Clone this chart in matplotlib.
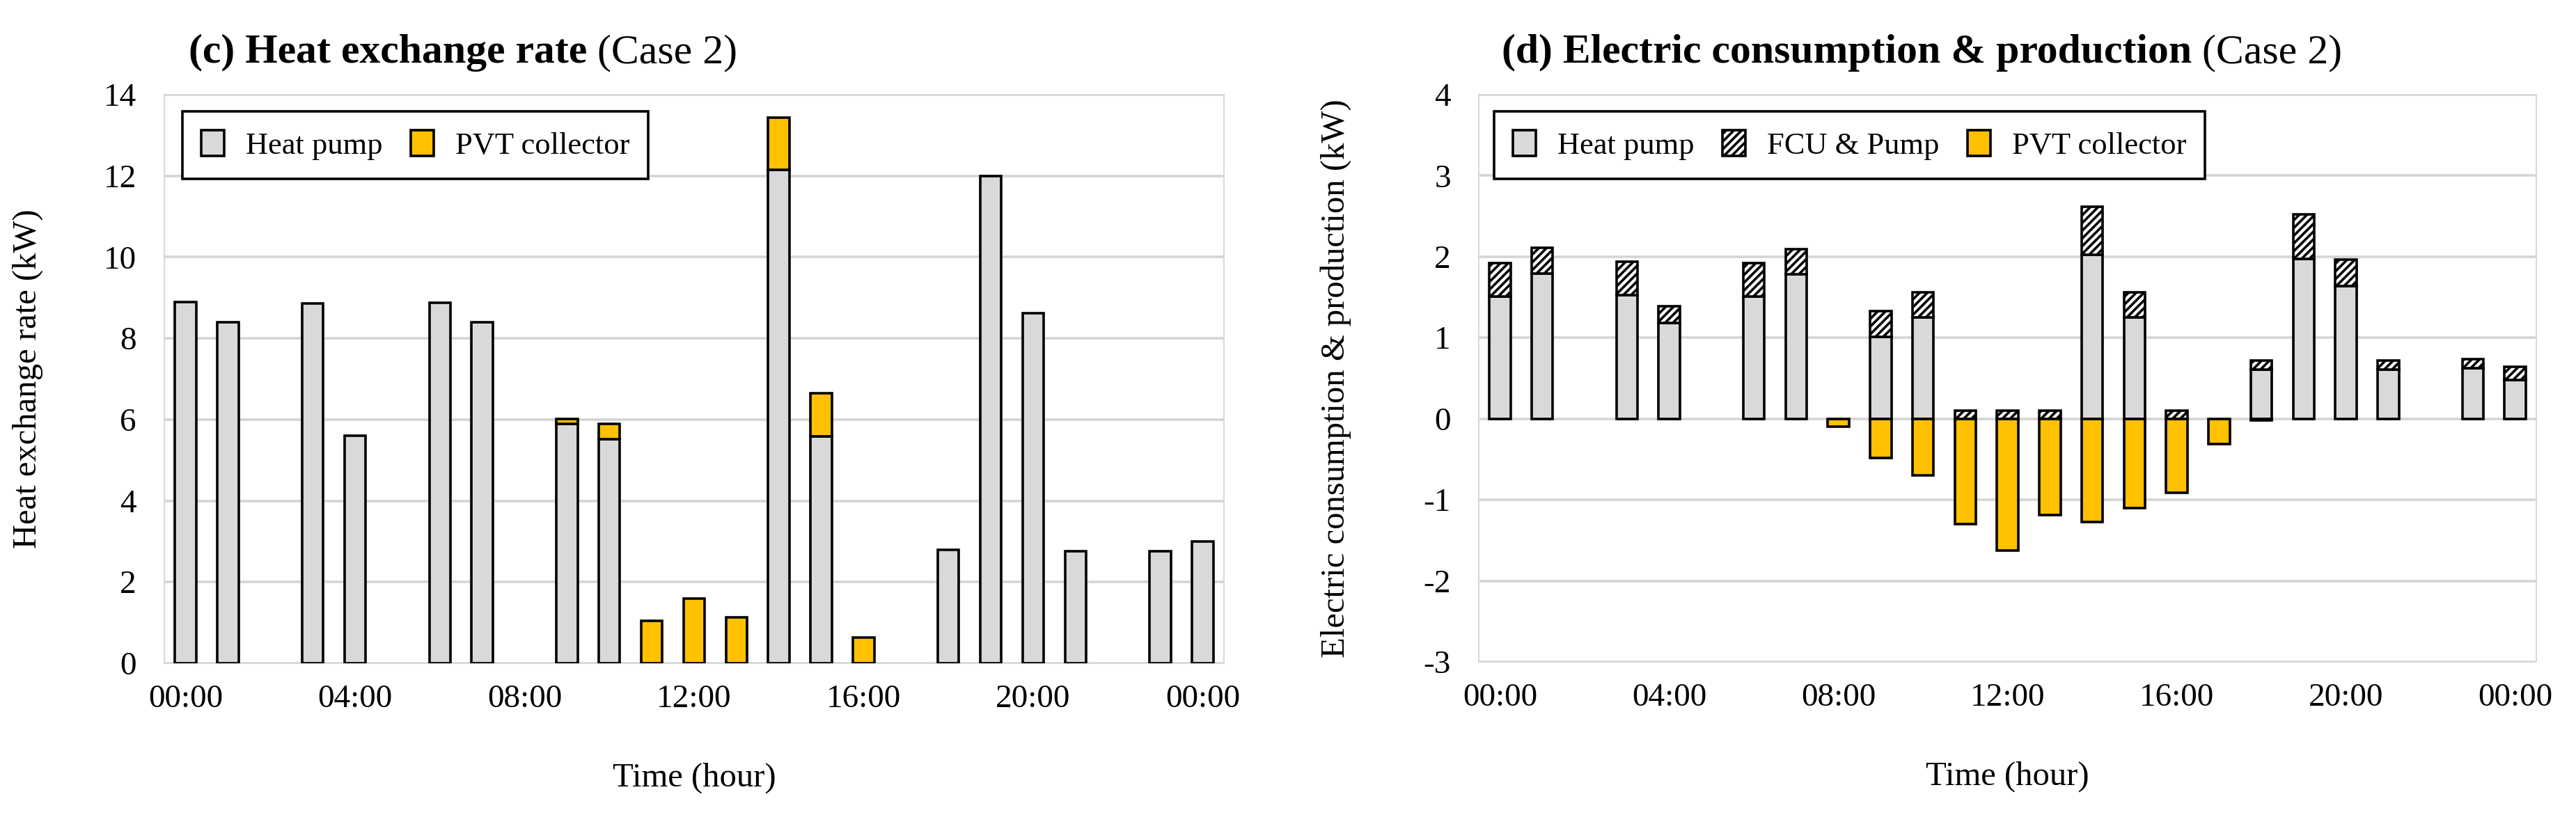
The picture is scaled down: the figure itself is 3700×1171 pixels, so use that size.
import numpy as np
import matplotlib
matplotlib.use('Agg')
import matplotlib.pyplot as plt

plt.rcParams['font.family'] = ['Liberation Serif', 'DejaVu Serif']
plt.rcParams['hatch.linewidth'] = 2.6
plt.rcParams['hatch.color'] = 'black'

# 25 hourly categories (00:00 .. next 00:00)
hour_labels = ['00:00', '04:00', '08:00', '12:00', '16:00', '20:00', '00:00']

# (c) heat exchange rate, kW
heat_pump_q = [8.9, 8.4, 0, 8.85, 5.6, 0, 8.88, 8.4, 0, 5.9, 5.52, 0, 0, 0,
               12.14, 5.58, 0, 0, 2.8, 12.0, 8.62, 2.76, 0, 2.76, 2.99]
pvt_q = [0, 0, 0, 0, 0, 0, 0, 0, 0, 0.12, 0.37, 1.05, 1.6, 1.13,
         1.29, 1.06, 0.63, 0, 0, 0, 0, 0, 0, 0, 0]

# (d) electric consumption & production, kW
heat_pump_e = [1.51, 1.79, 0, 1.53, 1.185, 0, 1.51, 1.78, 0, 1.01, 1.25, 0, 0, 0,
               2.02, 1.25, 0, 0, 0.61, 1.97, 1.64, 0.61, 0, 0.62, 0.48]
fcu_pump_e = [0.41, 0.32, 0, 0.41, 0.2, 0, 0.41, 0.31, 0, 0.32, 0.31, 0.10, 0.10, 0.10,
              0.6, 0.31, 0.10, 0, 0.11, 0.55, 0.32, 0.11, 0, 0.12, 0.16]
pvt_e = [0, 0, 0, 0, 0, 0, 0, 0, -0.10, -0.48, -0.70, -1.30, -1.63, -1.19,
         -1.27, -1.10, -0.91, -0.31, -0.02, 0, 0, 0, 0, 0, 0]

GRAY = '#d9d9d9'
GOLD = '#ffc000'
FS = 34
BW = 0.5
LW = 2.6


def draw_bars(ax, values, bottom, label, **kw):
    x = np.arange(len(values))
    v = np.array(values, dtype=float)
    b = np.array(bottom, dtype=float)
    keep = v != 0
    return ax.bar(x[keep], v[keep], BW, bottom=b[keep], label=label,
                  edgecolor='black', linewidth=LW, zorder=3, **kw)


def style_axes(ax, ylim, yticks, ylabel, ylab_x):
    ax.set_xlim(-0.5, 24.5)
    ax.set_ylim(*ylim)
    ax.set_yticks(yticks)
    ax.set_xticks(range(0, 25, 4))
    ax.set_xticklabels(hour_labels)
    ax.tick_params(length=0, labelsize=FS)
    ax.tick_params(axis='x', pad=22)
    ax.tick_params(axis='y', pad=29)
    ax.grid(axis='y', color='#d4d4d4', linewidth=2.6, zorder=0)
    ax.set_axisbelow(True)
    for s in ax.spines.values():
        s.set_color(GRAY)
        s.set_linewidth(1.5)
    ax.set_xlabel('Time (hour)', fontsize=35, va='center')
    ax.xaxis.set_label_coords(0.5, -0.202)
    ax.set_ylabel(ylabel, fontsize=35, va='center')
    ax.yaxis.set_label_coords(ylab_x, 0.5)


def add_legend(ax, x0, ncol):
    leg = ax.legend(loc='upper left', bbox_to_anchor=(x0, 0.97), borderaxespad=0,
                    ncol=ncol, fontsize=32, fancybox=False, framealpha=1,
                    edgecolor='black', borderpad=0.6, handletextpad=0.7,
                    columnspacing=0.9, handlelength=0.75, handleheight=0.9)
    leg.get_frame().set_linewidth(2.6)
    leg.set_zorder(5)


fig = plt.figure(figsize=(37, 11.71), dpi=100)
ax1 = fig.add_axes([0.0638, 0.1862, 0.4113, 0.6977])
ax2 = fig.add_axes([0.5741, 0.1879, 0.4105, 0.696])

# (c)
draw_bars(ax1, heat_pump_q, np.zeros(25), 'Heat pump', color=GRAY)
draw_bars(ax1, pvt_q, heat_pump_q, 'PVT collector', color=GOLD)
style_axes(ax1, (0, 14), range(0, 15, 2), 'Heat exchange rate (kW)', -0.129)
add_legend(ax1, 0.017, 2)

# (d)
draw_bars(ax2, heat_pump_e, np.zeros(25), 'Heat pump', color=GRAY)
draw_bars(ax2, fcu_pump_e, heat_pump_e, 'FCU & Pump', facecolor='white', hatch='///')
draw_bars(ax2, pvt_e, np.zeros(25), 'PVT collector', color=GOLD)
style_axes(ax2, (-3, 4), range(-3, 5), 'Electric consumption & production (kW)', -0.1356)
ax2.set_yticklabels([str(v) for v in range(-3, 5)])
add_legend(ax2, 0.0145, 3)

# titles: bold part followed by regular "(Case 2)"
for x, txt in [(271 / 3700, '(c) Heat exchange rate'),
               (2157 / 3700, '(d) Electric consumption & production')]:
    t = fig.text(x, 1 - 90 / 1171, txt, ha='left', va='baseline',
                 fontsize=43, fontweight='bold')
    plt.annotate(' (Case 2)', xy=(1, 0), xycoords=t, ha='left', va='bottom',
                 fontsize=43, annotation_clip=False)

fig.savefig('out.png', dpi=100)
